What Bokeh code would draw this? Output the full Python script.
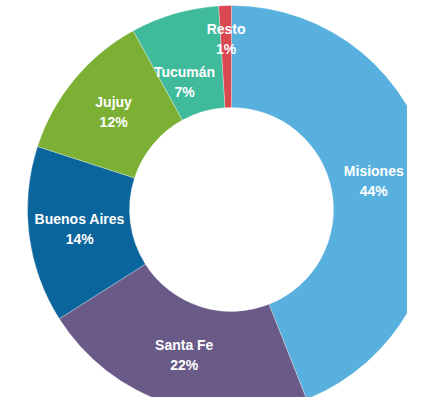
import math
from bokeh.plotting import figure
from bokeh.models import ColumnDataSource
from bokeh.core.properties import value
from bokeh.embed import file_html
from bokeh.resources import INLINE

categories = ["Misiones", "Santa Fe", "Buenos Aires", "Jujuy", "Tucumán", "Resto"]
shares = [44, 22, 14, 12, 7, 1]
colors = ["#57B0DD", "#6A5A88", "#0B659D", "#7CB035", "#3FBB9C", "#D9474F"]

W, H = 407, 397
CX, CY = 231, H - 209
R_OUT, R_IN = 204, 102
# label placement tweaks (style only): radius, extra angle in degrees, x nudge
label_radius = {"Tucumán": 136, "Resto": 171}
label_angle = {"Tucumán": 4}
label_dx = {"Misiones": -8}

total = sum(shares)
starts, ends, lx, ly = [], [], [], []
cum = 0.0
for cat, s in zip(categories, shares):
    a0 = math.pi / 2 - 2 * math.pi * cum / total
    cum += s
    a1 = math.pi / 2 - 2 * math.pi * cum / total
    starts.append(a0)
    ends.append(a1)
    mid = (a0 + a1) / 2 + math.radians(label_angle.get(cat, 0))
    r = label_radius.get(cat, (R_OUT + R_IN) / 2)
    lx.append(CX + r * math.cos(mid) + label_dx.get(cat, 0))
    ly.append(CY + r * math.sin(mid))

src = ColumnDataSource(dict(
    cat=categories,
    pct=[f"{s}%" for s in shares],
    start=starts, end=ends, color=colors,
    lx=lx, ly=ly,
    ly_top=[y + 10 for y in ly], ly_bot=[y - 10 for y in ly],
))

p = figure(width=W, height=H, x_range=(0, W), y_range=(0, H),
           output_backend="svg", toolbar_location=None, min_border=0)
p.axis.visible = False
p.grid.visible = False
p.outline_line_color = None
p.background_fill_color = "white"

p.annular_wedge(x=CX, y=CY, inner_radius=R_IN, outer_radius=R_OUT,
                start_angle="start", end_angle="end", direction="clock",
                fill_color="color", line_color="white", line_width=0.5,
                line_alpha=0.6, source=src)

common = dict(text_align="center", text_baseline="middle", text_color="white",
              text_font=value("Liberation Sans"), text_font_style="bold",
              text_font_size="14px")
p.text(x="lx", y="ly_top", text="cat", source=src, **common)
p.text(x="lx", y="ly_bot", text="pct", source=src, **common)

open("out.html", "w").write(file_html(p, INLINE))
